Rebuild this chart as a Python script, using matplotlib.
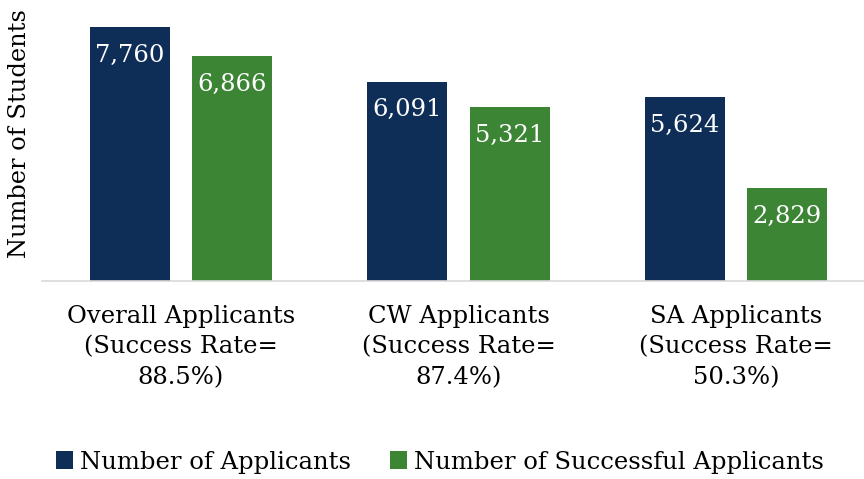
import matplotlib
matplotlib.use("Agg")
import matplotlib.pyplot as plt
import numpy as np

categories = [
    "Overall Applicants\n(Success Rate=\n88.5%)",
    "CW Applicants\n(Success Rate=\n87.4%)",
    "SA Applicants\n(Success Rate=\n50.3%)",
]
applicants = [7760, 6091, 5624]
successful = [6866, 5321, 2829]
series_names = ["Number of Applicants", "Number of Successful Applicants"]

BLUE = "#0e2d57"
GREEN = "#3b8535"

plt.rcParams["font.family"] = ["DejaVu Serif"]

fig = plt.figure(figsize=(8.64, 4.79), dpi=100)
ax = fig.add_axes([42 / 864, 1 - 281 / 479, 833 / 864, 281 / 479])

x = np.arange(len(categories))
w = 0.288
off = 0.184
b1 = ax.bar(x - off, applicants, w, color=BLUE, label=series_names[0])
b2 = ax.bar(x + off, successful, w, color=GREEN, label=series_names[1])

# value labels just inside the top of each bar
for bars, vals in ((b1, applicants), (b2, successful)):
    for b, v in zip(bars, vals):
        ax.annotate(f"{v:,}", (b.get_x() + b.get_width() / 2, v),
                    xytext=(0, -12), textcoords="offset points",
                    ha="center", va="top", color="white", fontsize=17.5)

ax.set_xlim(-0.5, 2.5)
ax.set_ylim(0, 8585)
ax.set_xticks(x)
ax.set_xticklabels(categories, fontsize=17.5, linespacing=1.42)
ax.tick_params(axis="x", length=0, pad=17)
ax.set_yticks([])
for s in ("top", "left", "right"):
    ax.spines[s].set_visible(False)
ax.spines["bottom"].set_color("#d9d9d9")
ax.spines["bottom"].set_linewidth(1.2)

fig.text(20 / 864, 1 - 134 / 479, "Number of Students", rotation=90,
         ha="center", va="center", fontsize=17.4)

fig.legend(handles=[b1, b2], loc="center", bbox_to_anchor=(0.509, 1 - 462 / 479),
           ncol=2, frameon=False, fontsize=17.5, handlelength=0.7, handleheight=0.7,
           handletextpad=0.3, columnspacing=1.6)

fig.savefig("out.png", dpi=100)
